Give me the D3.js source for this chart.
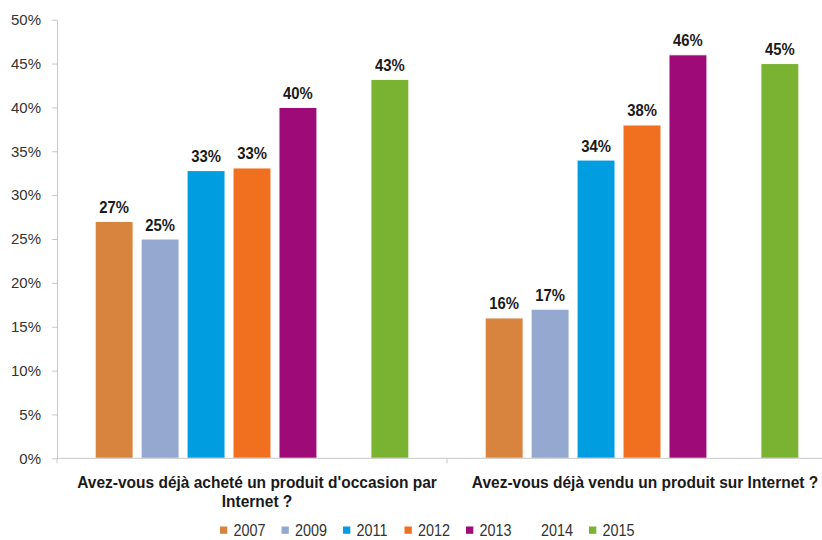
<!DOCTYPE html>
<html>
<head>
<meta charset="utf-8">
<script src="https://cdn.jsdelivr.net/npm/d3@7"></script>
<style>
  html, body { margin: 0; padding: 0; background: #fff; }
  svg { display: block; font-family: "Liberation Sans", Arial, sans-serif; }
</style>
</head>
<body>
<svg id="chart" width="822" height="540"></svg>
<script>
// Survey questions (x categories), pre-wrapped into lines
const questions = [
  ["Avez-vous déjà acheté un produit d'occasion par", "Internet ?"],
  ["Avez-vous déjà vendu un produit sur Internet ?"]
];
// Survey years (series)
const years = ["2007", "2009", "2011", "2012", "2013", "2014", "2015"];
// Share of respondents (%) per year, for each question; 2014 has no data
const achete = [27, 25, 32.8, 33.1, 40, null, 43.2];
const vendu  = [16, 17, 34, 38, 46, null, 45];
const seriesColors = ["#D8843F", "#95A9D0", "#009EE0", "#F07020", "#9E0A78", "none", "#7AB232"];
const yTicks = [0, 5, 10, 15, 20, 25, 30, 35, 40, 45, 50];

const svg = d3.select("#chart");
const plot = { left: 57, right: 837, top: 19.7, bottom: 458.3 };
const x0 = d3.scaleBand().domain([0, 1]).range([plot.left, plot.right]).padding(0);
const x1 = d3.scaleBand().domain(years).range([0, x0.bandwidth()])
  .paddingInner(8 / 46).paddingOuter(0.83);
const y = d3.scaleLinear().domain([0, 50]).range([plot.bottom, plot.top]);

const values = [achete, vendu];

// Y axis
const yAxis = svg.append("g").attr("transform", `translate(${plot.left},0)`)
  .call(d3.axisLeft(y).tickValues(yTicks).tickFormat(d => d + "%").tickSize(5).tickSizeOuter(0));
yAxis.select(".domain").attr("stroke", "#c8c8c8");
yAxis.selectAll(".tick line").attr("stroke", "#c8c8c8");
yAxis.selectAll(".tick text").attr("fill", "#333").attr("font-size", 15).attr("x", -16);

// Bars
const groups = svg.append("g").selectAll("g").data(values).join("g")
  .attr("transform", (d, i) => `translate(${x0(i)},0)`);

const barData = vals => vals
  .map((v, j) => ({ v, year: years[j], color: seriesColors[j] }))
  .filter(d => d.v != null);

groups.selectAll("rect")
  .data(barData)
  .join("rect")
  .attr("x", d => x1(d.year))
  .attr("width", x1.bandwidth())
  .attr("y", d => y(d.v))
  .attr("height", d => y(0) - y(d.v))
  .attr("fill", d => d.color)
  .attr("stroke", "#fff")
  .attr("stroke-width", 1);

// Value labels (condensed bold)
groups.selectAll("text.val")
  .data(barData)
  .join("text")
  .attr("class", "val")
  .attr("transform", d => `translate(${x1(d.year) + x1.bandwidth() / 2},${y(d.v) - 8.5}) scale(0.9,1)`)
  .attr("text-anchor", "middle")
  .attr("font-weight", "bold")
  .attr("font-size", 16.5)
  .attr("fill", "#1a1a1a")
  .text(d => Math.round(d.v) + "%");

// X axis line with category boundary ticks
const xAxisG = svg.append("g").attr("transform", `translate(0,${plot.bottom})`);
xAxisG.append("line").attr("x1", plot.left).attr("x2", plot.right).attr("stroke", "#c8c8c8");
xAxisG.selectAll("line.tk").data([0, 1, 2]).join("line")
  .attr("class", "tk")
  .attr("x1", i => plot.left + i * x0.bandwidth()).attr("x2", i => plot.left + i * x0.bandwidth())
  .attr("y1", 0).attr("y2", 5).attr("stroke", "#c8c8c8");

// Category labels
questions.forEach((lines, i) => {
  const cx = x0(i) + x0.bandwidth() / 2 + (i === 0 ? 5 : 3);
  lines.forEach((ln, k) => {
    svg.append("text")
      .attr("transform", `translate(${cx},${488.3 + k * 18.4}) scale(0.94,1)`)
      .attr("text-anchor", "middle")
      .attr("font-weight", "bold")
      .attr("font-size", 16.5)
      .attr("fill", "#1a1a1a")
      .text(ln);
  });
});

// Legend
const legend = svg.append("g").attr("transform", "translate(220,536)");
const items = legend.selectAll("g").data(years).join("g")
  .attr("transform", (d, i) => `translate(${i * 61.5},0)`);
items.append("rect")
  .attr("x", 0).attr("y", -9.5).attr("width", 7.3).attr("height", 7.3)
  .attr("fill", (d, i) => seriesColors[i]);
items.append("text")
  .attr("transform", "translate(13.5,0) scale(0.9,1)")
  .attr("font-size", 16)
  .attr("fill", "#333")
  .text(d => d);
</script>
</body>
</html>
